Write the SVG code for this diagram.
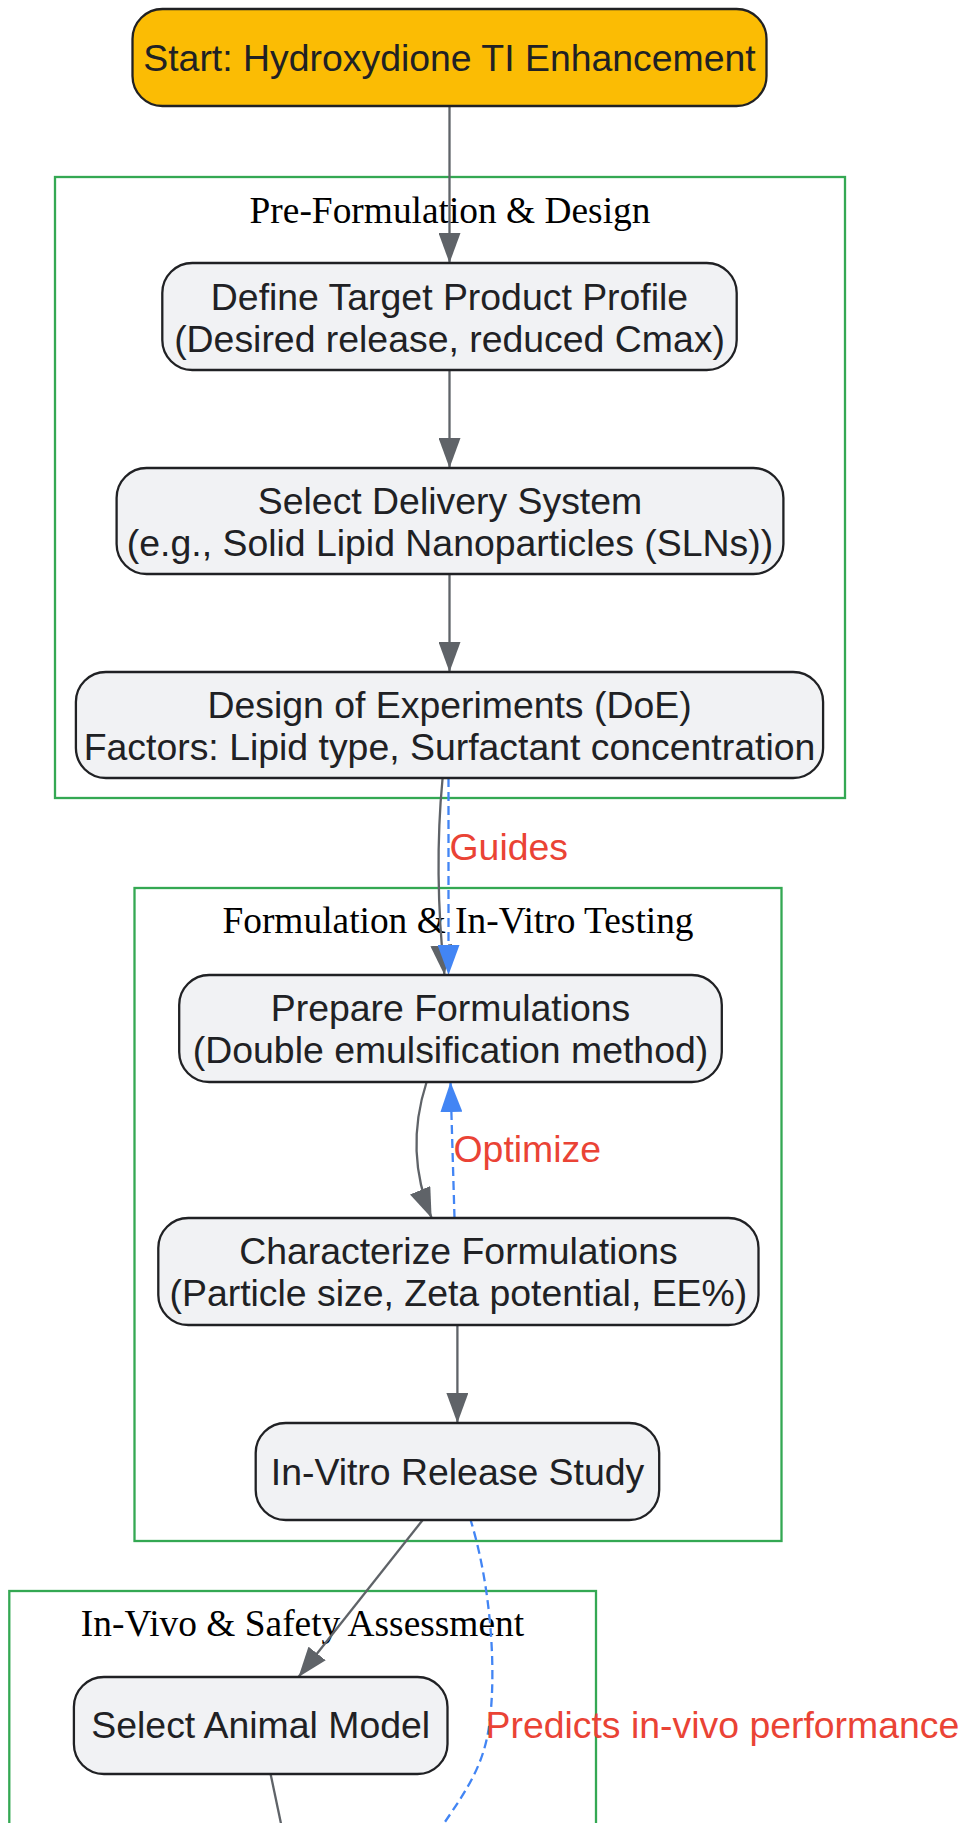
<svg xmlns="http://www.w3.org/2000/svg" width="960" height="1823" viewBox="0 0 960 1823">
<defs>
<style>
.node rect{fill:#f1f2f4;stroke:#202124;stroke-width:2.3}
.start rect{fill:#fbbc04;stroke:#202124;stroke-width:2.3}
.nt{font-family:"Liberation Sans",Arial,sans-serif;font-size:37.4px;fill:#202124;text-anchor:middle}
.cl rect{fill:none;stroke:#34a853;stroke-width:2.3}
.ct{font-family:"Liberation Serif","Times New Roman",serif;font-size:37.4px;fill:#000;text-anchor:middle}
.e{fill:none;stroke:#5f6368;stroke-width:2.3}
.d{fill:none;stroke:#4285f4;stroke-width:2.3;stroke-dasharray:9 5}
.lbl{font-family:"Liberation Sans",Arial,sans-serif;font-size:37.4px;fill:#ea4335}
</style>
<marker id="ag" viewBox="0 0 30 22" refX="30" refY="11" markerWidth="30" markerHeight="22" markerUnits="userSpaceOnUse" orient="auto"><path d="M0,0 L30,11 L0,22 z" fill="#5f6368"/></marker>
<marker id="ab" viewBox="0 0 30 22" refX="30" refY="11" markerWidth="30" markerHeight="22" markerUnits="userSpaceOnUse" orient="auto"><path d="M0,0 L30,11 L0,22 z" fill="#4285f4"/></marker>
</defs>
<rect width="960" height="1823" fill="#fff"/>
<g id="clusters">
<g id="cluster-pre" class="cl"><rect x="55" y="177" width="790" height="621"/><text class="ct" x="450" y="223">Pre-Formulation &amp; Design</text></g>
<g id="cluster-form" class="cl"><rect x="134.5" y="888" width="647" height="653"/><text class="ct" x="458" y="933">Formulation &amp; In-Vitro Testing</text></g>
<g id="cluster-vivo" class="cl"><rect x="9.3" y="1591" width="586.7" height="400"/><text class="ct" x="302.5" y="1636">In-Vivo &amp; Safety Assessment</text></g>
</g>
<g id="connectors">
<path class="e" d="M449.5,106 L449.5,263" marker-end="url(#ag)"/>
<path class="e" d="M449.5,370 L449.5,468" marker-end="url(#ag)"/>
<path class="e" d="M449.5,574 L449.5,672" marker-end="url(#ag)"/>
<path class="e" d="M442.6,778 C437.6,830 436.6,900 444.5,975" marker-end="url(#ag)"/>
<path class="d" d="M448.5,778 L448.5,975" marker-end="url(#ab)"/>
<path class="e" d="M426.6,1082 C412.7,1125 411.7,1170 431.6,1218" marker-end="url(#ag)"/>
<path class="d" d="M454.5,1218 L450.5,1082" marker-end="url(#ab)"/>
<path class="e" d="M457.4,1325 L457.4,1423" marker-end="url(#ag)"/>
<path class="e" d="M422.7,1520 L298.5,1677" marker-end="url(#ag)"/>
<path class="d" d="M470,1518 C494,1595 497,1690 487,1738 C479,1775 460,1800 429,1845"/>
<path class="e" d="M270.6,1774 L285.5,1845"/>
<text class="lbl" x="449.5" y="860">Guides</text>
<text class="lbl" x="453.5" y="1162">Optimize</text>
<text class="lbl" x="485.5" y="1738">Predicts in-vivo performance</text>
</g>
<g id="n-start" class="start"><rect x="132.5" y="9" width="634" height="97" rx="30"/><text class="nt" x="449.5" y="71">Start: Hydroxydione TI Enhancement</text></g>
<g id="n-tpp" class="node"><rect x="162.3" y="263" width="574.4" height="107" rx="30"/><text class="nt" x="449.5" y="309.5">Define Target Product Profile</text><text class="nt" x="449.5" y="352">(Desired release, reduced Cmax)</text></g>
<g id="n-sel" class="node"><rect x="116.6" y="468" width="666.8" height="106" rx="30"/><text class="nt" x="450" y="514">Select Delivery System</text><text class="nt" x="450" y="556">(e.g., Solid Lipid Nanoparticles (SLNs))</text></g>
<g id="n-doe" class="node"><rect x="75.9" y="672" width="747.2" height="106" rx="30"/><text class="nt" x="449.5" y="718">Design of Experiments (DoE)</text><text class="nt" x="449.5" y="760">Factors: Lipid type, Surfactant concentration</text></g>
<g id="n-prep" class="node"><rect x="179.2" y="975" width="542.6" height="107" rx="30"/><text class="nt" x="450.5" y="1021">Prepare Formulations</text><text class="nt" x="450.5" y="1063">(Double emulsification method)</text></g>
<g id="n-char" class="node"><rect x="158.3" y="1218" width="600.2" height="107" rx="30"/><text class="nt" x="458.4" y="1264">Characterize Formulations</text><text class="nt" x="458.4" y="1306">(Particle size, Zeta potential, EE%)</text></g>
<g id="n-ivr" class="node"><rect x="255.7" y="1423" width="403.5" height="97" rx="30"/><text class="nt" x="457.5" y="1484.5">In-Vitro Release Study</text></g>
<g id="n-animal" class="node"><rect x="73.9" y="1677" width="373.6" height="97" rx="30"/><text class="nt" x="260.7" y="1738">Select Animal Model</text></g>
</svg>
